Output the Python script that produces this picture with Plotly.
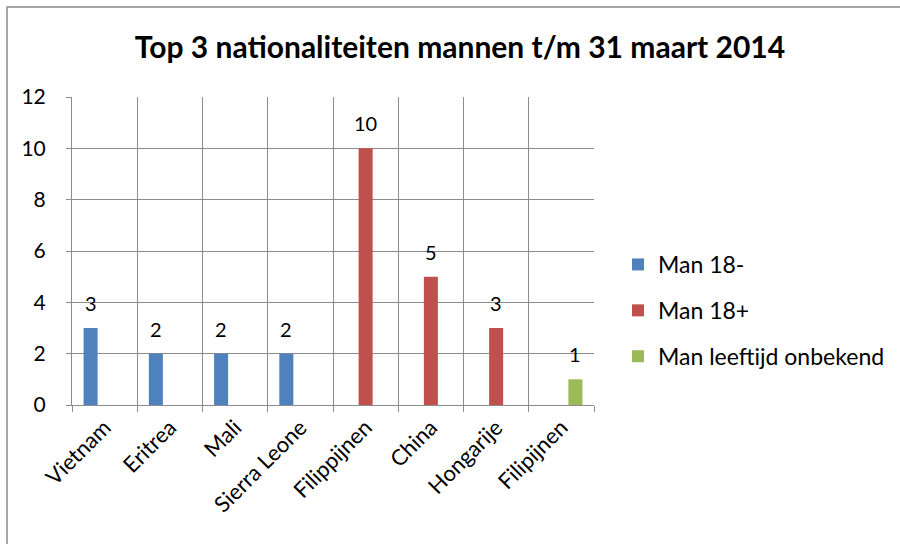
import plotly.graph_objects as go

categories = ["Vietnam", "Eritrea", "Mali", "Sierra Leone", "Filippijnen", "China", "Hongarije", "Filipijnen"]
man_min18 = [3, 2, 2, 2, 0, 0, 0, 0]
man_plus18 = [0, 0, 0, 0, 10, 5, 3, 0]
man_onbekend = [0, 0, 0, 0, 0, 0, 0, 1]
series_names = ["Man 18-", "Man 18+", "Man leeftijd onbekend"]
colors = ["#4F81BD", "#C0504D", "#9BBB59"]
series_values = [man_min18, man_plus18, man_onbekend]

FONT = "Lato"
GRID = "#8C8C8C"
L, R, T, B = 72, 306, 97, 139
W, H = 900, 544
pw, ph = W - L - R, H - T - B
BARGAP = 0.355

fig = go.Figure()
for name, vals, col in zip(series_names, series_values, colors):
    fig.add_trace(go.Bar(
        x=categories, y=vals, name=name, marker_color=col,
        marker_line_width=0, legendgroup=name,
    ))

# data labels above bars (Excel style, centred ~25px above top)
cat_px = pw / len(categories)
bar_px = cat_px * (1 - BARGAP) / len(series_names)
for i, vals in enumerate(series_values):
    shift = (i - (len(series_names) - 1) / 2) * bar_px
    for c, v in zip(categories, vals):
        if v:
            fig.add_annotation(x=c, y=v, text=str(v), showarrow=False,
                               xshift=shift, yshift=25, yanchor="middle",
                               font=dict(size=20, family=FONT, color="black"))

fig.update_layout(
    width=W, height=H, barmode="group", bargap=BARGAP, bargroupgap=0,
    margin=dict(l=L, r=R, t=T, b=B, autoexpand=False),
    paper_bgcolor="white", plot_bgcolor="white",
    font=dict(family=FONT, size=20, color="black"),
    title=dict(text="<b>Top 3 nationaliteiten mannen t/m 31 maart 2014</b>",
               x=460 / W, xanchor="center", y=1 - 47 / H, yanchor="middle",
               font=dict(size=30, family=FONT, color="black")),
    legend=dict(x=(618 - L) / pw, xanchor="left", y=1 - (243 - T) / ph, yanchor="top",
                traceorder="grouped", tracegroupgap=13,
                font=dict(size=23, family=FONT), bgcolor="rgba(0,0,0,0)"),
    showlegend=True,
)
fig.update_xaxes(
    type="category", tickson="boundaries", ticks="outside", ticklen=6,
    tickcolor=GRID, showgrid=True, gridcolor=GRID, gridwidth=1,
    showline=True, linecolor=GRID, linewidth=1, tickangle=-45,
    tickfont=dict(size=22, family=FONT),
)
fig.update_yaxes(
    range=[0, 12], dtick=2, ticks="outside", ticklen=5, tickcolor=GRID,
    showgrid=True, gridcolor=GRID, gridwidth=1, ticklabelstandoff=16,
    showline=True, linecolor=GRID, linewidth=1, zeroline=False,
    tickfont=dict(size=21, family=FONT),
)
# chart frame
fig.add_shape(type="rect", xref="paper", yref="paper",
              x0=(7 - L) / pw, x1=(906 - L) / pw,
              y0=-(550 - (T + ph)) / ph, y1=1 + (T - 7) / ph,
              line=dict(color=GRID, width=1.5), fillcolor="rgba(0,0,0,0)", layer="below")

fig.write_html("out.html", config={"displayModeBar": False},
               post_script="document.body.style.margin='0';")
